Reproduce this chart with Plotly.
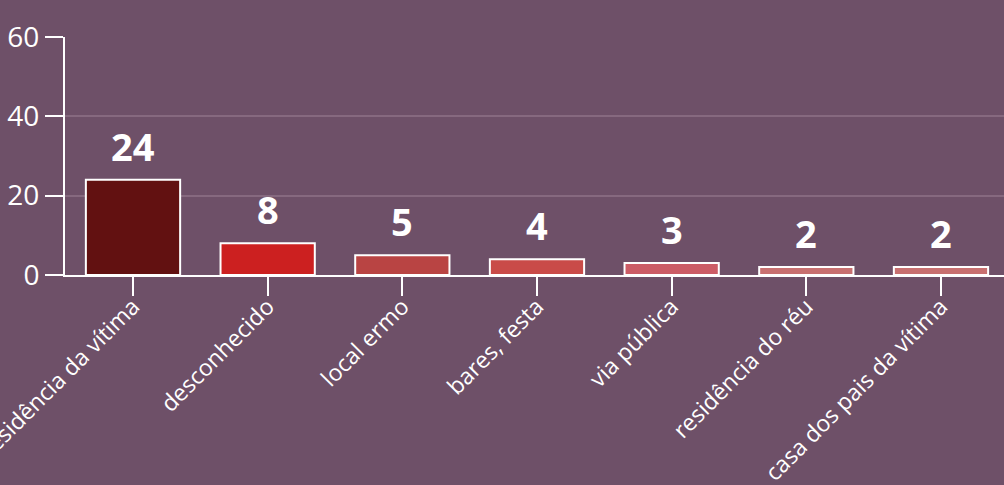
import plotly.graph_objects as go

categories = ["residência da vítima", "desconhecido", "local ermo", "bares, festa",
              "via pública", "residência do réu", "casa dos pais da vítima"]
values = [24, 8, 5, 4, 3, 2, 2]
bar_colors = ["#621111", "#cc2020", "#b94443", "#c94b48", "#cc5c66", "#c87070", "#c87070"]
y_ticks = [0, 20, 40, 60]

BG = "#6e5068"
FONT = "Open Sans"

fig = go.Figure()
fig.add_trace(go.Bar(
    x=categories, y=values,
    marker=dict(color=bar_colors, line=dict(color="white", width=2)),
    width=0.7, hoverinfo="skip",
))

for c, v in zip(categories, values):
    fig.add_annotation(x=c, y=v, text=str(v), showarrow=False, yanchor="bottom",
                       yshift=6, font=dict(family=FONT, size=38, color="white", weight="bold"))

fig.update_layout(
    width=1004, height=485,
    paper_bgcolor=BG, plot_bgcolor=BG,
    margin=dict(l=65, r=0, t=37, b=210, autoexpand=False),
    showlegend=False,
    font=dict(family=FONT, color="white"),
    xaxis=dict(
        range=[-0.505, 6.468], tickangle=-45, automargin=False,
        showline=True, linecolor="white", linewidth=2,
        ticks="outside", ticklen=19, tickwidth=2, tickcolor="white",
        tickfont=dict(family=FONT, size=23, color="white"),
        ticklabelstandoff=-12,
        showgrid=False,
    ),
    yaxis=dict(
        range=[0, 60], tickvals=y_ticks, automargin=False,
        showline=True, linecolor="white", linewidth=2,
        ticks="outside", ticklen=18, tickwidth=2, tickcolor="white",
        tickfont=dict(family=FONT, size=28, color="white"),
        showgrid=True, gridcolor="#86697f", gridwidth=2,
        zeroline=False,
    ),
)

fig.write_html("out.html", config={"displayModeBar": False},
               post_script="document.body.style.margin='0';document.body.style.background='%s';" % BG)
